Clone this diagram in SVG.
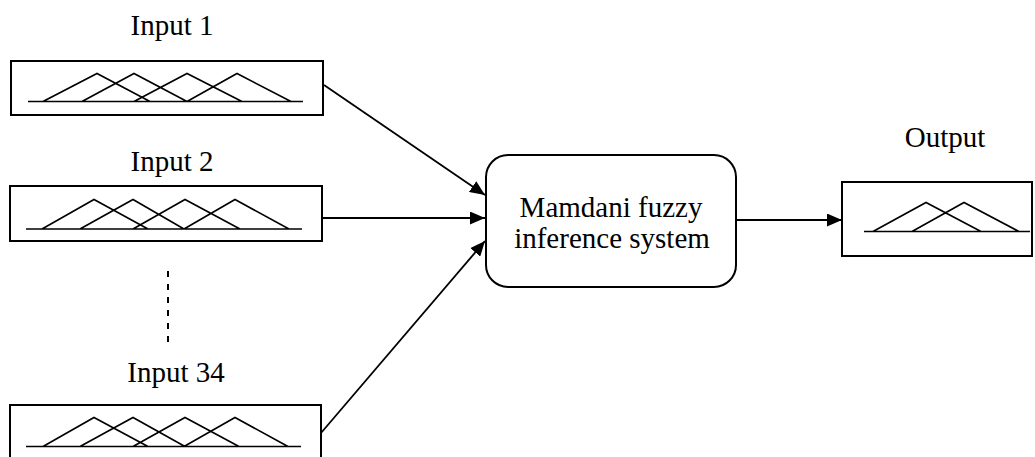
<svg xmlns="http://www.w3.org/2000/svg" width="1035" height="457" viewBox="0 0 1035 457">
  <defs>
    <marker id="arrow" markerWidth="15" markerHeight="13" refX="15" refY="6.5" orient="auto" markerUnits="userSpaceOnUse">
      <path d="M0,0 L15,6.5 L0,13 Z" fill="#000"/>
    </marker>
    <style>
      .box { fill: #fff; stroke: #000; stroke-width: 2; }
      .mf { fill: none; stroke: #000; stroke-width: 1.6; stroke-linejoin: miter; }
      .lbl { font-family: "Liberation Serif", "Times New Roman", serif; font-size: 29px; fill: #000; text-anchor: middle; }
      .edge { fill: none; stroke: #000; stroke-width: 1.8; marker-end: url(#arrow); }
    </style>
  </defs>
  <rect width="1035" height="457" fill="#fff"/>

  <!-- input variable 1 with four triangular membership functions -->
  <g id="input1">
    <text class="lbl" x="172" y="35">Input 1</text>
    <rect class="box" x="11" y="61" width="312" height="54"/>
    <path class="mf" d="M28,101.5 H303 M43,101.5 L97,73.5 L150,101.5 M82,101.5 L134,73.5 L187,101.5 M134,101.5 L187,73.5 L242,101.5 M187,101.5 L237,73.5 L291,101.5"/>
  </g>

  <!-- input variable 2 -->
  <g id="input2">
    <text class="lbl" x="172" y="171">Input 2</text>
    <rect class="box" x="10" y="186" width="312" height="55"/>
    <path class="mf" d="M26,229 H302 M42,229 L94,199.5 L148,229 M80,229 L133,199.5 L184,229 M133,229 L185,199.5 L240,229 M184,229 L235,199.5 L289,229"/>
  </g>

  <!-- elided inputs -->
  <g id="ellipsis">
    <line x1="168" y1="271" x2="168" y2="343" stroke="#000" stroke-width="2" stroke-dasharray="6 7"/>
  </g>

  <!-- input variable 34 -->
  <g id="input34">
    <text class="lbl" x="176" y="382">Input 34</text>
    <rect class="box" x="10" y="405" width="311" height="60"/>
    <path class="mf" d="M26,446.5 H301 M43,446.5 L94,417.5 L148,446.5 M80,446.5 L133,417.5 L185,446.5 M133,446.5 L185,417.5 L239,446.5 M184,446.5 L235,417.5 L288,446.5"/>
  </g>

  <!-- inference engine -->
  <g id="fis">
    <rect class="box" x="486" y="155" width="250" height="132" rx="22" ry="22"/>
    <text class="lbl" x="611" y="217">Mamdani fuzzy</text>
    <text class="lbl" x="612" y="248">inference system</text>
  </g>

  <!-- output variable -->
  <g id="output">
    <text class="lbl" x="945" y="147">Output</text>
    <rect class="box" x="842" y="182" width="190" height="74"/>
    <path class="mf" d="M864,231.5 H1030 M873,231.5 L926,202.5 L981,231.5 M912,231.5 L964,202.5 L1019,231.5"/>
  </g>

  <!-- connectors -->
  <g id="connectors">
    <line class="edge" x1="324" y1="85" x2="485" y2="195"/>
    <line class="edge" x1="322" y1="218" x2="485" y2="218"/>
    <line class="edge" x1="321" y1="433" x2="485" y2="241"/>
    <line class="edge" x1="736" y1="220" x2="842" y2="220"/>
  </g>
</svg>
